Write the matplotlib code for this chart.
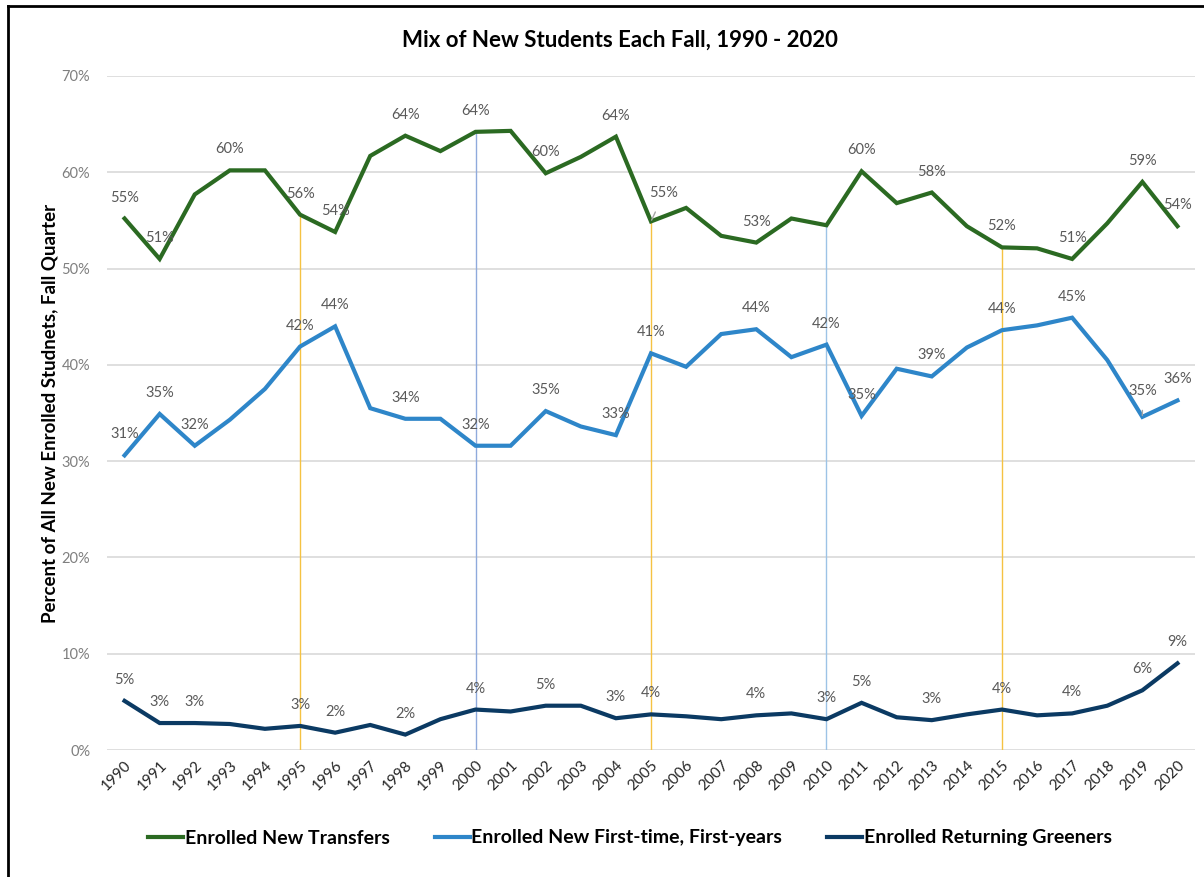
import matplotlib.pyplot as plt
import numpy as np
from matplotlib.lines import Line2D

plt.rcParams['font.family'] = ['Lato', 'DejaVu Sans']

years = list(range(1990, 2021))
# percent of all new enrolled students
transfers = [55.2, 51.0, 57.7, 60.2, 60.2, 55.6, 53.8, 61.7, 63.8, 62.2,
             64.2, 64.3, 59.9, 61.6, 63.7, 54.9, 56.3, 53.4, 52.7, 55.2,
             54.5, 60.1, 56.8, 57.9, 54.4, 52.2, 52.1, 51.0, 54.7, 59.0, 54.4]
first_years = [30.6, 34.9, 31.6, 34.3, 37.5, 41.9, 44.0, 35.5, 34.4, 34.4,
               31.6, 31.6, 35.2, 33.6, 32.7, 41.2, 39.8, 43.2, 43.7, 40.8,
               42.1, 34.7, 39.6, 38.8, 41.8, 43.6, 44.1, 44.9, 40.5, 34.6, 36.3]
greeners = [5.1, 2.8, 2.8, 2.7, 2.2, 2.5, 1.8, 2.6, 1.6, 3.2,
            4.2, 4.0, 4.6, 4.6, 3.3, 3.7, 3.5, 3.2, 3.6, 3.8,
            3.2, 4.9, 3.4, 3.1, 3.7, 4.2, 3.6, 3.8, 4.6, 6.2, 9.0]

transfer_label_years = [1990, 1991, 1993, 1995, 1996, 1998, 2000, 2002, 2004,
                        2005, 2008, 2011, 2013, 2015, 2017, 2019, 2020]
first_label_years = [1990, 1991, 1992, 1995, 1996, 1998, 2000, 2002, 2004,
                     2005, 2008, 2010, 2011, 2013, 2015, 2017, 2019, 2020]
greener_label_years = [1990, 1991, 1992, 1995, 1996, 1998, 2000, 2002, 2004,
                       2005, 2008, 2010, 2011, 2013, 2015, 2017, 2019, 2020]

marker_years = [1995, 2000, 2005, 2010, 2015]
marker_colors = ['#f5c242', '#8faadc', '#f5c242', '#9dc3e6', '#f5c242']

names = ['Enrolled New Transfers', 'Enrolled New First-time, First-years',
         'Enrolled Returning Greeners']
colors = ['#2b6a22', '#2e86c9', '#0b3a63']

fig = plt.figure(figsize=(12.04, 8.77), dpi=100)
ax = fig.add_axes([107 / 1204, 1 - 750 / 877, 1088 / 1204, 674 / 877])

# thin reference lines
for yr, c in zip(marker_years, marker_colors):
    ax.vlines(yr, 0, transfers[years.index(yr)], color=c, lw=1, zorder=1)

series = [transfers, first_years, greeners]
label_years = [transfer_label_years, first_label_years, greener_label_years]
for vals, c, name in zip(series, colors, names):
    ax.plot(years, vals, color=c, lw=3, label=name, zorder=3,
            solid_joinstyle='miter')

# data labels (Excel style, above the point)
special = {(0, 2005): (13, 28), (1, 2019): (0, 26)}
for i, (vals, lyears) in enumerate(zip(series, label_years)):
    for yr in lyears:
        v = vals[years.index(yr)]
        txt = '%d%%' % int(np.floor(v + 0.5))
        off = special.get((i, yr), (0, 21))
        arrow = None
        if (i, yr) in special:
            arrow = dict(arrowstyle='-', color='#a6a6a6', lw=1,
                         shrinkA=7, shrinkB=1)
        ax.annotate(txt, (yr, v), xytext=off, textcoords='offset pixels',
                    ha='center', va='center', fontsize=10.5, color='#595959',
                    arrowprops=arrow, zorder=4)

ax.set_xlim(1989.5, 2020.5)
ax.set_ylim(0, 70)
ax.set_yticks(range(0, 71, 10))
ax.set_yticklabels(['%d%%' % t for t in range(0, 71, 10)])
ax.set_xticks(years)
ax.set_xticklabels([str(y) for y in years], rotation=45, ha='right',
                   rotation_mode='anchor')
ax.tick_params(axis='x', length=0, pad=6, labelsize=11, labelcolor='#262626')
ax.tick_params(axis='y', length=0, pad=12, labelsize=10.5, labelcolor='#7f7f7f')
for s in ax.spines.values():
    s.set_visible(False)
ax.grid(axis='y', color='#d9d9d9', lw=1.2)
ax.set_axisbelow(True)

ax.set_ylabel('Percent of All New Enrolled Studnets, Fall Quarter',
              fontsize=13.5, fontweight='bold')
ax.yaxis.set_label_coords((58 - 107) / 1088, 0.5)

fig.text(620 / 1204, 1 - 40 / 877, 'Mix of New Students Each Fall, 1990 - 2020',
         ha='center', va='center', fontsize=16, fontweight='bold')

fig.legend(loc='center', bbox_to_anchor=(630 / 1204, 1 - 838 / 877), ncol=3,
           frameon=False, prop={'weight': 'bold', 'size': 14},
           handlelength=1.8, handletextpad=0.1, columnspacing=2.3)

# outer frame (left and top edges)
fig.add_artist(Line2D([8 / 1204, 8 / 1204], [0, 1 - 6 / 877], color='black', lw=2))
fig.add_artist(Line2D([8 / 1204, 1], [1 - 6 / 877, 1 - 6 / 877], color='black', lw=2))

fig.savefig('out.png', dpi=100)
